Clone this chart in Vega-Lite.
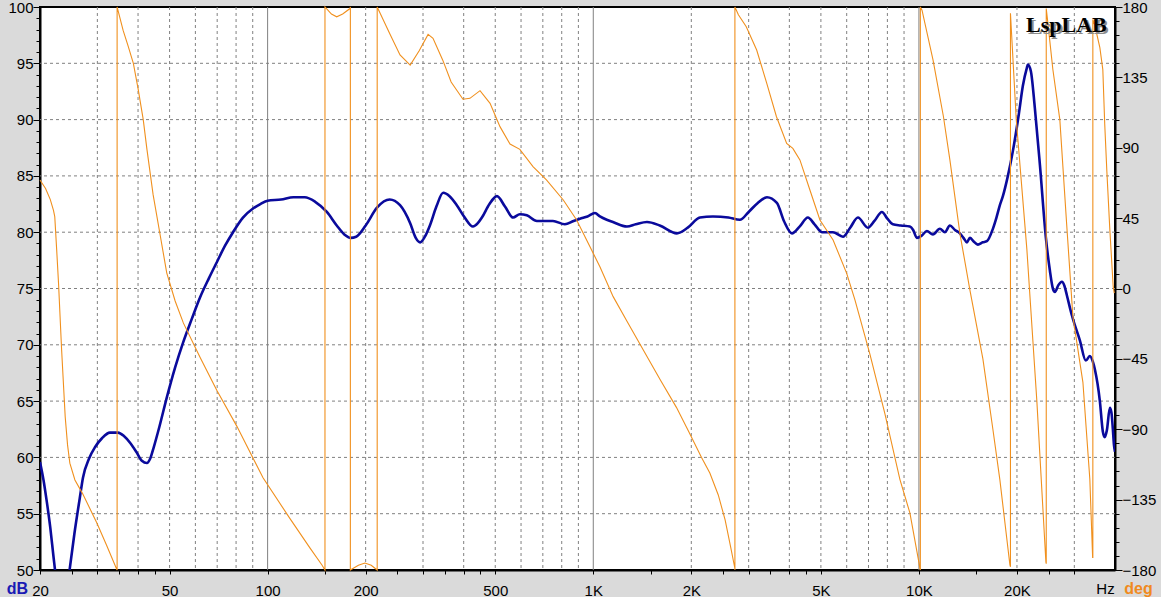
{
  "$schema": "https://vega.github.io/schema/vega-lite/v6.json",
  "width": 1075,
  "height": 563,
  "autosize": {"type": "none"},
  "padding": {"left": 40, "top": 7, "right": 46, "bottom": 27},
  "background": "#DADADA",
  "datasets": {
    "gridx": [{"f":30},{"f":40},{"f":50},{"f":60},{"f":70},{"f":80},{"f":90},{"f":200},{"f":300},{"f":400},{"f":500},{"f":600},{"f":700},{"f":800},{"f":900},{"f":2000},{"f":3000},{"f":4000},{"f":5000},{"f":6000},{"f":7000},{"f":8000},{"f":9000},{"f":20000},{"f":30000}],
    "decades": [{"f":100},{"f":1000},{"f":10000}],
    "gridy": [{"db":55},{"db":60},{"db":65},{"db":70},{"db":75},{"db":80},{"db":85},{"db":90},{"db":95}],
    "mag": [
      {"f":20,"db":59.6},{"f":20.5,"db":58.0},{"f":21,"db":56.0},{"f":21.5,"db":53.8},{"f":22,"db":51.2},{"f":22.5,"db":48.8},{"f":23,"db":47.0},{"f":23.5,"db":46.5},{"f":24,"db":47.3},{"f":24.6,"db":49.8},{"f":25.5,"db":53.2},{"f":26.5,"db":56.4},{"f":27.1,"db":58.2},{"f":28.3,"db":59.9},{"f":29.5,"db":60.9},{"f":31,"db":61.7},{"f":32.8,"db":62.2},{"f":34.7,"db":62.2},{"f":36.2,"db":61.9},{"f":37.8,"db":61.3},{"f":39.5,"db":60.5},{"f":41.1,"db":59.7},{"f":42.6,"db":59.5},{"f":43.6,"db":59.9},{"f":44.7,"db":60.9},{"f":46.5,"db":62.7},{"f":49.1,"db":65.4},{"f":52,"db":68.0},{"f":55,"db":70.2},{"f":58.5,"db":72.3},{"f":62,"db":74.2},{"f":66,"db":75.9},{"f":70,"db":77.4},{"f":74,"db":78.8},{"f":78.3,"db":80.0},{"f":84,"db":81.3},{"f":90.2,"db":82.1},{"f":95,"db":82.5},{"f":100,"db":82.8},{"f":110,"db":82.9},{"f":120,"db":83.1},{"f":130,"db":83.1},{"f":140,"db":82.7},{"f":152,"db":81.8},{"f":163,"db":80.6},{"f":172,"db":79.8},{"f":180,"db":79.5},{"f":187,"db":79.6},{"f":200,"db":80.6},{"f":217,"db":82.2},{"f":237,"db":82.9},{"f":255,"db":82.4},{"f":274,"db":80.8},{"f":285,"db":79.5},{"f":294,"db":79.1},{"f":304,"db":79.6},{"f":315,"db":80.6},{"f":330,"db":82.3},{"f":346,"db":83.5},{"f":362,"db":83.2},{"f":381,"db":82.4},{"f":403,"db":81.3},{"f":427,"db":80.5},{"f":442,"db":80.8},{"f":455,"db":81.3},{"f":480,"db":82.5},{"f":506,"db":83.2},{"f":535,"db":82.3},{"f":567,"db":81.3},{"f":595,"db":81.6},{"f":625,"db":81.5},{"f":671,"db":81.0},{"f":752,"db":81.0},{"f":818,"db":80.7},{"f":870,"db":81.0},{"f":910,"db":81.2},{"f":960,"db":81.4},{"f":1012,"db":81.7},{"f":1048,"db":81.4},{"f":1100,"db":81.1},{"f":1149,"db":80.9},{"f":1269,"db":80.5},{"f":1350,"db":80.7},{"f":1462,"db":80.9},{"f":1600,"db":80.6},{"f":1806,"db":79.9},{"f":1950,"db":80.4},{"f":2126,"db":81.3},{"f":2330,"db":81.4},{"f":2600,"db":81.3},{"f":2820,"db":81.1},{"f":3000,"db":81.8},{"f":3200,"db":82.6},{"f":3414,"db":83.1},{"f":3662,"db":82.6},{"f":3850,"db":81.0},{"f":4074,"db":79.9},{"f":4300,"db":80.5},{"f":4560,"db":81.3},{"f":4780,"db":80.7},{"f":5036,"db":80.0},{"f":5444,"db":80.0},{"f":5844,"db":79.6},{"f":6150,"db":80.4},{"f":6496,"db":81.3},{"f":6970,"db":80.4},{"f":7300,"db":81.0},{"f":7696,"db":81.8},{"f":8000,"db":81.2},{"f":8318,"db":80.7},{"f":8800,"db":80.6},{"f":9380,"db":80.5},{"f":9600,"db":80.2},{"f":9856,"db":79.5},{"f":10200,"db":79.7},{"f":10578,"db":80.1},{"f":11036,"db":79.8},{"f":11596,"db":80.3},{"f":12012,"db":80.0},{"f":12446,"db":80.6},{"f":12900,"db":80.2},{"f":13358,"db":79.9},{"f":13700,"db":79.5},{"f":14040,"db":79.1},{"f":14340,"db":79.5},{"f":14700,"db":79.2},{"f":15172,"db":78.9},{"f":15700,"db":79.1},{"f":16168,"db":79.2},{"f":16868,"db":80.3},{"f":17300,"db":81.3},{"f":17724,"db":82.4},{"f":18104,"db":83.2},{"f":18756,"db":85.0},{"f":19428,"db":87.2},{"f":20268,"db":90.5},{"f":20852,"db":93.0},{"f":21450,"db":94.6},{"f":21604,"db":94.9},{"f":22066,"db":94.3},{"f":22700,"db":91.0},{"f":23520,"db":86.0},{"f":24540,"db":79.5},{"f":25240,"db":76.6},{"f":25780,"db":75.0},{"f":26160,"db":74.7},{"f":26800,"db":75.3},{"f":27480,"db":75.6},{"f":28000,"db":75.2},{"f":28460,"db":74.4},{"f":29500,"db":72.6},{"f":31200,"db":70.4},{"f":32540,"db":68.6},{"f":33480,"db":69.0},{"f":34200,"db":68.5},{"f":34700,"db":67.8},{"f":35940,"db":65.0},{"f":36700,"db":62.3},{"f":37200,"db":61.8},{"f":37760,"db":62.4},{"f":38580,"db":64.4},{"f":39000,"db":64.0},{"f":39400,"db":62.5},{"f":39680,"db":61.2},{"f":40000,"db":60.5}
    ],
    "phase": [
      {"f":20,"deg":69.4},{"f":20.8,"deg":64},{"f":21.5,"deg":57},{"f":22.0,"deg":50},{"f":22.2,"deg":46},{"f":22.5,"deg":25},{"f":22.8,"deg":3.3},{"f":23.3,"deg":-39},{"f":23.9,"deg":-82},{"f":24.3,"deg":-100},{"f":24.7,"deg":-111.7},{"f":25.6,"deg":-122.4},{"f":27,"deg":-131},{"f":28.5,"deg":-141},{"f":29.9,"deg":-150},{"f":32,"deg":-164},{"f":34.4,"deg":-179.5},
      {"f":34.5,"deg":-180},{"f":34.5,"deg":180},
      {"f":34.7,"deg":178},{"f":36,"deg":165},{"f":37.3,"deg":155},{"f":38.7,"deg":144},{"f":40,"deg":128},{"f":41.5,"deg":108},{"f":42.6,"deg":89},{"f":44.5,"deg":60},{"f":46.7,"deg":35},{"f":49,"deg":10},{"f":52,"deg":-8},{"f":55.1,"deg":-22},{"f":62,"deg":-44},{"f":69.8,"deg":-65},{"f":80.4,"deg":-88},{"f":96.8,"deg":-121},{"f":117,"deg":-147},{"f":135,"deg":-166},{"f":147,"deg":-177},{"f":150,"deg":-180},
      {"f":150,"deg":180},{"f":157,"deg":175.5},{"f":163,"deg":173.7},{"f":170,"deg":175.5},{"f":179,"deg":179},{"f":179.5,"deg":180},
      {"f":179.5,"deg":-180},{"f":190,"deg":-177},{"f":199,"deg":-175.5},{"f":208,"deg":-177},{"f":217,"deg":-180},
      {"f":217,"deg":180},{"f":237,"deg":163},{"f":255,"deg":149.3},{"f":274,"deg":142.9},{"f":292,"deg":152},{"f":311,"deg":162.5},{"f":322,"deg":160},{"f":345,"deg":146},{"f":366,"deg":132},{"f":398,"deg":121},{"f":418,"deg":121.6},{"f":449,"deg":126.5},{"f":482,"deg":118.4},{"f":517,"deg":103.5},{"f":555,"deg":92.4},{"f":595,"deg":89},{"f":653,"deg":78},{"f":718,"deg":69.4},{"f":809,"deg":56.6},{"f":889,"deg":43.8},{"f":977,"deg":26.7},{"f":1048,"deg":13.9},{"f":1151,"deg":-5.2},{"f":1269,"deg":-21},{"f":1430,"deg":-40},{"f":1602,"deg":-58},{"f":1800,"deg":-76},{"f":1970,"deg":-92},{"f":2150,"deg":-108},{"f":2280,"deg":-118},{"f":2420,"deg":-132},{"f":2540,"deg":-148},{"f":2640,"deg":-165},{"f":2722,"deg":-179},
      {"f":2722,"deg":-180},{"f":2722,"deg":180},
      {"f":2790,"deg":175},{"f":2950,"deg":167.4},{"f":3175,"deg":152.5},{"f":3410,"deg":131.2},{"f":3650,"deg":110},{"f":3925,"deg":92.8},{"f":4100,"deg":89.6},{"f":4310,"deg":82.2},{"f":4626,"deg":63},{"f":4966,"deg":43.8},{"f":5450,"deg":31},{"f":6000,"deg":9.7},{"f":6360,"deg":-7.3},{"f":7070,"deg":-42},{"f":7860,"deg":-80},{"f":8740,"deg":-122},{"f":9380,"deg":-143.5},{"f":9994,"deg":-175},{"f":10066,"deg":-179},
      {"f":10100,"deg":-180},{"f":10100,"deg":180},
      {"f":10220,"deg":178},{"f":11050,"deg":146},{"f":11890,"deg":110},{"f":12446,"deg":82.2},{"f":13358,"deg":35.3},{"f":14340,"deg":-1},{"f":15718,"deg":-45},{"f":16868,"deg":-90},{"f":17724,"deg":-122.4},{"f":19026,"deg":-176.8},
      {"f":19100,"deg":-178},{"f":19100,"deg":176},
      {"f":19900,"deg":108},{"f":21450,"deg":25},{"f":23020,"deg":-72},{"f":24540,"deg":-175},
      {"f":24600,"deg":-176},{"f":24600,"deg":179},
      {"f":24880,"deg":170},{"f":25780,"deg":140},{"f":27080,"deg":108},{"f":28400,"deg":42},{"f":29700,"deg":-18},{"f":31880,"deg":-60},{"f":33480,"deg":-122},{"f":34150,"deg":-172},
      {"f":34200,"deg":-172},{"f":34200,"deg":172},
      {"f":34700,"deg":168},{"f":35940,"deg":154},{"f":36700,"deg":140},{"f":37200,"deg":105},{"f":37760,"deg":75},{"f":38580,"deg":37},{"f":39500,"deg":1},{"f":39800,"deg":-3}
    ]
  },
  "layer": [
    {
      "data": {"name": "gridx"},
      "mark": {"type": "rule", "color": "#808080", "strokeWidth": 1, "strokeDash": [3, 3]},
      "encoding": {
        "x": {"field": "f", "type": "quantitative", "scale": {"type": "log", "domain": [20, 40000], "nice": false}}
      }
    },
    {
      "data": {"name": "decades"},
      "mark": {"type": "rule", "color": "#808080", "strokeWidth": 1},
      "encoding": {
        "x": {"field": "f", "type": "quantitative", "scale": {"type": "log", "domain": [20, 40000], "nice": false}}
      }
    },
    {
      "data": {"name": "gridy"},
      "mark": {"type": "rule", "color": "#808080", "strokeWidth": 1, "strokeDash": [3, 3]},
      "encoding": {
        "y": {"field": "db", "type": "quantitative", "scale": {"domain": [50, 100], "nice": false, "zero": false}, "axis": null}
      }
    },
    {
      "data": {"name": "mag"},
      "mark": {"type": "line", "color": "#0A0A9C", "strokeWidth": 2.6, "interpolate": "monotone", "clip": true},
      "encoding": {
        "x": {
          "field": "f", "type": "quantitative",
          "scale": {"type": "log", "domain": [20, 40000], "nice": false},
          "axis": {
            "values": [20,25,30,35,40,45,50,100,150,200,250,300,350,400,450,500,1000,1500,2000,2500,3000,3500,4000,4500,5000,10000,15000,20000,25000,30000],
            "title": "Hz", "titleX": 1065, "titleY": 23, "titleAlign": "center", "titleBaseline": "alphabetic", "titleFontSize": 15, "titleFontWeight": "normal", "titleColor": "#000000", "titleFont": "Liberation Sans",
            "tickSize": 4, "tickColor": "#000000",
            "labelExpr": "(datum.value == 20 || datum.value == 50 || datum.value == 100 || datum.value == 200 || datum.value == 500) ? '' + datum.value : ((datum.value == 1000 || datum.value == 2000 || datum.value == 5000 || datum.value == 10000 || datum.value == 20000) ? (datum.value / 1000) + 'K' : '')",
            "labelPadding": 9, "labelOverlap": false, "labelBound": false, "labelFlush": false,
            "labelFont": "Liberation Sans", "labelFontSize": 15, "labelColor": "#000000",
            "grid": false,
            "domainColor": "#000000", "domainWidth": 2
          }
        },
        "y": {
          "field": "db", "type": "quantitative",
          "scale": {"domain": [50, 100], "nice": false, "zero": false},
          "axis": {
            "orient": "left",
            "values": [50,51,52,53,54,55,56,57,58,59,60,61,62,63,64,65,66,67,68,69,70,71,72,73,74,75,76,77,78,79,80,81,82,83,84,85,86,87,88,89,90,91,92,93,94,95,96,97,98,99,100],
            "title": "dB", "titleAngle": 0, "titleX": -23, "titleY": 586, "titleAlign": "center", "titleBaseline": "alphabetic", "titleColor": "#1A1AB4", "titleFontWeight": "bold", "titleFontSize": 16, "titleFont": "Liberation Sans",
            "tickColor": "#000000",
            "tickSize": {"condition": {"test": "datum.value % 5 == 0", "value": 7}, "value": 4},
            "labelExpr": "datum.value % 5 == 0 ? datum.label : ''",
            "labelPadding": 0, "labelOverlap": false, "labelBound": false, "labelFlush": false,
            "labelFont": "Liberation Sans", "labelFontSize": 15, "labelColor": "#000000",
            "grid": false,
            "domainColor": "#000000", "domainWidth": 2
          }
        }
      }
    },
    {
      "data": {"name": "phase"},
      "mark": {"type": "line", "color": "#F0901E", "strokeWidth": 1.1, "interpolate": "linear"},
      "encoding": {
        "order": {"value": null},
        "x": {"field": "f", "type": "quantitative", "scale": {"type": "log", "domain": [20, 40000], "nice": false}},
        "y": {
          "field": "deg", "type": "quantitative",
          "scale": {"domain": [-180, 180], "nice": false, "zero": false},
          "axis": {
            "orient": "right",
            "values": [-180,-171,-162,-153,-144,-135,-126,-117,-108,-99,-90,-81,-72,-63,-54,-45,-36,-27,-18,-9,0,9,18,27,36,45,54,63,72,81,90,99,108,117,126,135,144,153,162,171,180],
            "title": "deg", "titleAngle": 0, "titleX": 23, "titleY": 586, "titleAlign": "center", "titleBaseline": "alphabetic", "titleColor": "#F08A1E", "titleFontWeight": "bold", "titleFontSize": 16, "titleFont": "Liberation Sans",
            "tickColor": "#000000",
            "tickSize": {"condition": {"test": "datum.value % 45 == 0", "value": 7}, "value": 4},
            "labelExpr": "datum.value % 45 == 0 ? datum.label : ''",
            "labelPadding": 0, "labelOverlap": false, "labelBound": false, "labelFlush": false,
            "labelFont": "Liberation Sans", "labelFontSize": 15, "labelColor": "#000000",
            "grid": false,
            "domainColor": "#000000", "domainWidth": 2
          }
        }
      }
    },
    {
      "data": {"values": [{"label": "LspLAB"}]},
      "mark": {"type": "text", "font": "Liberation Serif", "fontSize": 22, "fontWeight": "bold", "color": "#8c8c8c", "dx": 2, "dy": 2, "align": "center", "baseline": "alphabetic"},
      "encoding": {
        "text": {"field": "label"},
        "x": {"datum": 28360, "type": "quantitative", "scale": {"type": "log", "domain": [20, 40000], "nice": false}},
        "y": {"datum": 97.8, "type": "quantitative", "scale": {"domain": [50, 100], "nice": false, "zero": false}, "axis": null}
      }
    },
    {
      "data": {"values": [{"label": "LspLAB"}]},
      "mark": {"type": "text", "font": "Liberation Serif", "fontSize": 22, "fontWeight": "bold", "color": "#000000", "align": "center", "baseline": "alphabetic"},
      "encoding": {
        "text": {"field": "label"},
        "x": {"datum": 28360, "type": "quantitative", "scale": {"type": "log", "domain": [20, 40000], "nice": false}},
        "y": {"datum": 97.8, "type": "quantitative", "scale": {"domain": [50, 100], "nice": false, "zero": false}, "axis": null}
      }
    }
  ],
  "resolve": {"scale": {"y": "independent"}},
  "config": {
    "view": {"fill": "#FFFFFF", "stroke": "#000000", "strokeWidth": 2}
  }
}
